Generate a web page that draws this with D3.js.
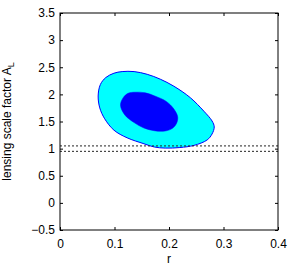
<!DOCTYPE html>
<html>
<head>
<meta charset="utf-8">
<script src="https://cdn.jsdelivr.net/npm/d3@7.9.0/dist/d3.min.js"></script>
<style>
  body { margin: 0; background: #fff; }
  svg text { font-family: "Liberation Sans", Arial, sans-serif; fill: #000; }
</style>
</head>
<body>
<svg id="chart" width="293" height="271"></svg>
<script>
// 68% and 95% contours in the (r, A_L) plane
const outerR = [0.070, 0.074, 0.084, 0.099, 0.114, 0.136, 0.160, 0.184, 0.209, 0.239, 0.264, 0.279,
                0.283, 0.279, 0.270, 0.246, 0.220, 0.193, 0.173, 0.154, 0.123, 0.099, 0.082, 0.073];
const outerA = [1.97, 2.18, 2.31, 2.39, 2.42, 2.42, 2.37, 2.28, 2.15, 1.94, 1.69, 1.51,
                1.40, 1.27, 1.16, 1.06, 1.02, 1.01, 1.03, 1.09, 1.20, 1.34, 1.55, 1.75];
const innerR = [0.111, 0.116, 0.125, 0.138, 0.156, 0.174, 0.195, 0.209,
                0.216, 0.213, 0.204, 0.189, 0.173, 0.154, 0.136, 0.119];
const innerA = [1.80, 1.94, 2.02, 2.04, 2.03, 1.97, 1.87, 1.73,
                1.58, 1.45, 1.36, 1.32, 1.33, 1.38, 1.48, 1.62];

// dotted reference lines
const refLines = [1.05, 0.95];

const xTicks = [0, 0.1, 0.2, 0.3, 0.4];
const yTicks = [-0.5, 0, 0.5, 1, 1.5, 2, 2.5, 3, 3.5];

const margin = {left: 60, top: 13, right: 15, bottom: 41};
const width = 293 - margin.left - margin.right;
const height = 271 - margin.top - margin.bottom;

const svg = d3.select("#chart");
const g = svg.append("g").attr("transform", `translate(${margin.left},${margin.top})`);

const x = d3.scaleLinear().domain([0, 0.4]).range([0, width]);
const y = d3.scaleLinear().domain([-0.5, 3.5]).range([height, 0]);

const line = d3.line()
    .x(d => x(d[0]))
    .y(d => y(d[1]))
    .curve(d3.curveCatmullRomClosed.alpha(0.5));

g.append("path")
    .attr("d", line(d3.zip(outerR, outerA)))
    .attr("fill", "#00ffff")
    .attr("stroke", "#0000ff")
    .attr("stroke-width", 1);

g.append("path")
    .attr("d", line(d3.zip(innerR, innerA)))
    .attr("fill", "#0000ff")
    .attr("stroke", "#0000ff")
    .attr("stroke-width", 0.5);

refLines.forEach(v => {
    g.append("line")
        .attr("x1", 0).attr("x2", width)
        .attr("y1", y(v)).attr("y2", y(v))
        .attr("stroke", "#222")
        .attr("stroke-width", 1)
        .attr("stroke-dasharray", "2,2");
});

const fmt = d => d < 0 ? "\u2212" + Math.abs(d) : String(d);

const xAxis = g.append("g")
    .attr("transform", `translate(0,${height})`)
    .call(d3.axisBottom(x).tickValues(xTicks).tickSize(-3).tickPadding(9).tickFormat(fmt));
const yAxis = g.append("g")
    .call(d3.axisLeft(y).tickValues(yTicks).tickSize(-3).tickPadding(5).tickFormat(fmt));
const topAxis = g.append("g")
    .call(d3.axisTop(x).tickValues(xTicks).tickSize(-3).tickFormat(""));
const rightAxis = g.append("g")
    .attr("transform", `translate(${width},0)`)
    .call(d3.axisRight(y).tickValues(yTicks).tickSize(-3).tickFormat(""));

[xAxis, yAxis, topAxis, rightAxis].forEach(a => {
    a.select(".domain").remove();
    a.selectAll("text").attr("font-size", 12).attr("font-family", null);
    a.selectAll("line").attr("stroke", "#000");
});

g.append("rect")
    .attr("width", width).attr("height", height)
    .attr("fill", "none")
    .attr("stroke", "#000")
    .attr("stroke-width", 1);

svg.append("text")
    .attr("x", margin.left + x(0.2))
    .attr("y", 263)
    .attr("text-anchor", "middle")
    .attr("font-size", 12)
    .text("r");

const ylab = svg.append("text")
    .attr("transform", `translate(11,${margin.top + height / 2}) rotate(-90)`)
    .attr("text-anchor", "middle")
    .attr("font-size", 12);
ylab.append("tspan").text("lensing scale factor A");
ylab.append("tspan").attr("font-size", 9).attr("dy", 3).text("L");
</script>
</body>
</html>
